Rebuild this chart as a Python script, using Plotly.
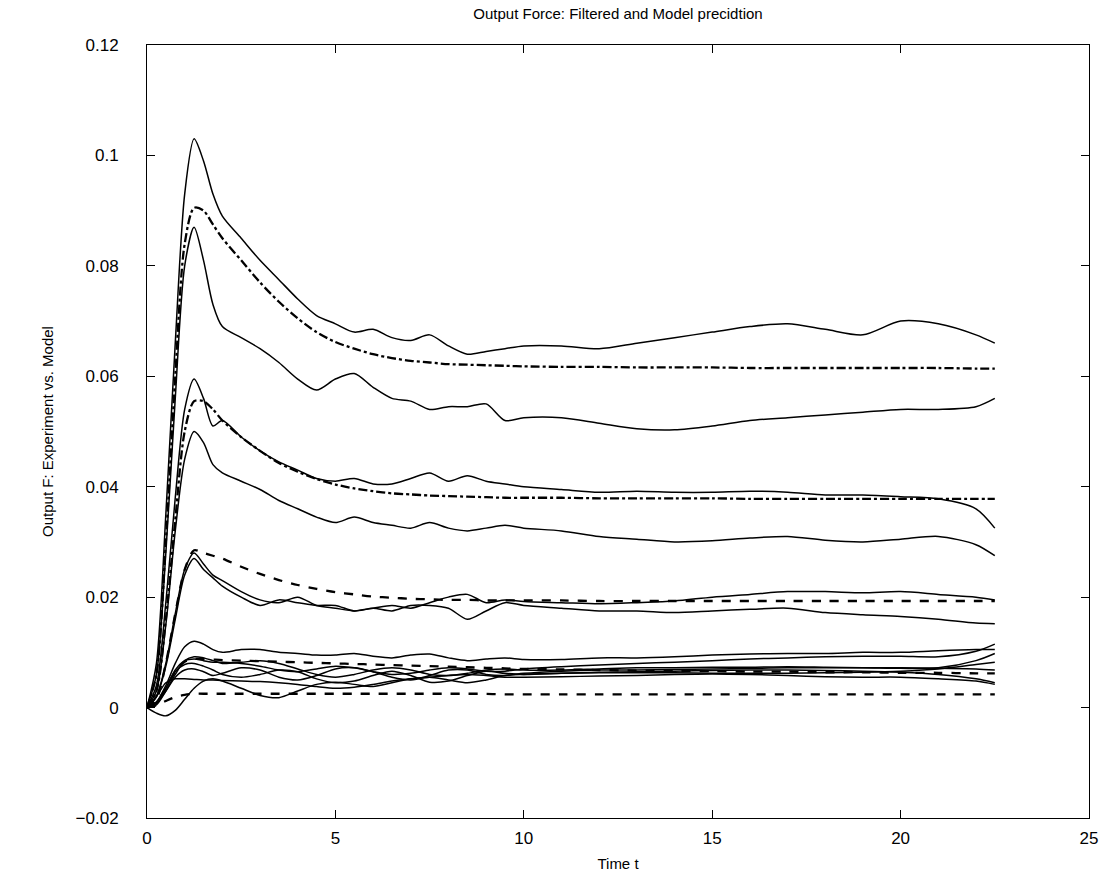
import plotly.graph_objects as go

t = [0, 0.25, 0.5, 0.75, 1.0, 1.25, 1.5, 1.75, 2, 2.5, 3, 3.5, 4, 4.5, 5, 5.5, 6, 6.5, 7, 7.5,
     8, 8.5, 9, 9.5, 10, 11, 12, 13, 14, 15, 16, 17, 18, 19, 20, 21, 22, 22.5]

# experiment (filtered) curves
exp_a = [0, 0.008, 0.035, 0.066, 0.093, 0.103, 0.099, 0.093, 0.089, 0.085, 0.081, 0.0775, 0.074, 0.071,
         0.0695, 0.068, 0.0685, 0.067, 0.0665, 0.0675, 0.0655, 0.064, 0.0645, 0.065, 0.0655, 0.0655, 0.065,
         0.066, 0.067, 0.068, 0.069, 0.0695, 0.0685, 0.0675, 0.070, 0.0695, 0.0675, 0.066]
exp_b = [0, 0.006, 0.028, 0.056, 0.080, 0.087, 0.081, 0.073, 0.069, 0.067, 0.065, 0.0625, 0.0595, 0.0575,
         0.0595, 0.0605, 0.058, 0.056, 0.0555, 0.054, 0.0545, 0.0545, 0.055, 0.052, 0.0525, 0.0525, 0.0515,
         0.0505, 0.0503, 0.051, 0.052, 0.0525, 0.053, 0.0535, 0.054, 0.054, 0.0545, 0.056]
exp_c = [0, 0.004, 0.019, 0.038, 0.054, 0.0595, 0.056, 0.051, 0.052, 0.049, 0.0465, 0.0445, 0.043, 0.0415,
         0.041, 0.0415, 0.0405, 0.0405, 0.0415, 0.0425, 0.041, 0.042, 0.041, 0.0405, 0.040, 0.0395, 0.039,
         0.0392, 0.039, 0.039, 0.0392, 0.039, 0.0385, 0.0385, 0.0382, 0.0378, 0.036, 0.0325]
exp_e = [0, 0.003, 0.015, 0.032, 0.045, 0.050, 0.048, 0.044, 0.0425, 0.041, 0.0395, 0.0375, 0.036, 0.0345,
         0.0335, 0.0345, 0.0335, 0.033, 0.0325, 0.0335, 0.0325, 0.032, 0.0325, 0.033, 0.0325, 0.032, 0.031,
         0.0305, 0.030, 0.0302, 0.0307, 0.031, 0.0303, 0.030, 0.0305, 0.031, 0.0295, 0.0275]
exp_g = [0, 0.002, 0.008, 0.017, 0.025, 0.028, 0.026, 0.024, 0.023, 0.021, 0.0195, 0.019, 0.020, 0.0185,
         0.018, 0.0175, 0.018, 0.0185, 0.018, 0.019, 0.020, 0.0205, 0.019, 0.0195, 0.0192, 0.019, 0.0188,
         0.019, 0.0193, 0.020, 0.0205, 0.021, 0.021, 0.0208, 0.021, 0.0205, 0.020, 0.0195]
exp_h = [0, 0.002, 0.0075, 0.016, 0.024, 0.027, 0.025, 0.0235, 0.022, 0.020, 0.0185, 0.0195, 0.019, 0.0185,
         0.0185, 0.0175, 0.018, 0.0175, 0.0185, 0.0185, 0.018, 0.016, 0.0175, 0.019, 0.0185, 0.018, 0.0175,
         0.0175, 0.0172, 0.0175, 0.0178, 0.018, 0.0172, 0.0168, 0.0165, 0.016, 0.0153, 0.0152]
exp_i = [0, 0.001, 0.004, 0.008, 0.011, 0.012, 0.0115, 0.0105, 0.010, 0.0105, 0.0105, 0.010, 0.0098, 0.0095,
         0.0095, 0.0098, 0.0093, 0.009, 0.0095, 0.0097, 0.009, 0.0085, 0.0088, 0.009, 0.0087, 0.0087, 0.009,
         0.009, 0.0092, 0.0095, 0.0097, 0.0098, 0.0098, 0.010, 0.010, 0.0103, 0.0105, 0.0105]
exp_l = [0, 0.0005, 0.003, 0.006, 0.0085, 0.0092, 0.009, 0.0085, 0.008, 0.0082, 0.0085, 0.008, 0.007, 0.006,
         0.0055, 0.006, 0.0068, 0.0072, 0.0068, 0.006, 0.0058, 0.0062, 0.0068, 0.007, 0.0068, 0.0068, 0.007,
         0.0072, 0.0072, 0.0073, 0.0073, 0.0074, 0.0073, 0.0072, 0.0072, 0.0071, 0.007, 0.0068]
exp_m = [0, 0.001, 0.0035, 0.0065, 0.0078, 0.008, 0.0075, 0.0068, 0.006, 0.0055, 0.006, 0.0068, 0.0065,
         0.0052, 0.0045, 0.0048, 0.0058, 0.0066, 0.0058, 0.0046, 0.0048, 0.0058, 0.0066, 0.0062, 0.006, 0.0062,
         0.0064, 0.0065, 0.0066, 0.0067, 0.0068, 0.0068, 0.0067, 0.0066, 0.0064, 0.006, 0.0052, 0.0045]
exp_n = [0, -0.001, -0.0015, -0.0005, 0.0015, 0.0035, 0.0048, 0.0052, 0.0048, 0.0035, 0.0022, 0.0018, 0.003,
         0.0042, 0.0046, 0.0042, 0.0038, 0.0045, 0.0052, 0.0055, 0.005, 0.0045, 0.005, 0.0058, 0.006, 0.0062,
         0.0063, 0.0063, 0.0063, 0.0062, 0.0062, 0.0062, 0.0063, 0.0064, 0.0066, 0.007, 0.0078, 0.0082]
exp_o = [0, 0.002, 0.0045, 0.0052, 0.0052, 0.0051, 0.005, 0.005, 0.0049, 0.0048, 0.0047, 0.0045, 0.0042,
         0.0038, 0.0035, 0.0037, 0.0042, 0.0048, 0.0052, 0.0055, 0.0058, 0.006, 0.0058, 0.0055, 0.0055, 0.0056,
         0.0057, 0.0058, 0.006, 0.0061, 0.006, 0.0058, 0.0056, 0.0055, 0.0055, 0.0052, 0.0048, 0.0042]
exp_p = [0, 0.0008, 0.003, 0.0055, 0.0068, 0.007, 0.0065, 0.0058, 0.0062, 0.0072, 0.0068, 0.0055, 0.005,
         0.0058, 0.007, 0.0072, 0.0065, 0.0055, 0.005, 0.0058, 0.0068, 0.0068, 0.006, 0.0058, 0.0062, 0.0066,
         0.0068, 0.0068, 0.0069, 0.007, 0.0071, 0.0072, 0.0072, 0.0072, 0.0071, 0.0072, 0.0085, 0.0098]
exp_q = [0, 0.0008, 0.0035, 0.0068, 0.0085, 0.0088, 0.0085, 0.0082, 0.0082, 0.008, 0.0075, 0.0068, 0.0065,
         0.007, 0.0075, 0.0072, 0.0065, 0.006, 0.0062, 0.0068, 0.0072, 0.007, 0.0066, 0.0066, 0.007, 0.0074,
         0.0077, 0.008, 0.0082, 0.0085, 0.0088, 0.009, 0.0092, 0.0093, 0.0093, 0.0092, 0.0102, 0.0115]

# model prediction curves
mod_1 = [0, 0.006, 0.030, 0.060, 0.084, 0.0905, 0.090, 0.0875, 0.085, 0.081, 0.077, 0.0735, 0.0705,
         0.068, 0.0662, 0.065, 0.064, 0.0633, 0.0628, 0.0625, 0.0622, 0.0621, 0.062, 0.0619, 0.0618, 0.0617,
         0.0617, 0.0616, 0.0616, 0.0616, 0.0615, 0.0615, 0.0615, 0.0615, 0.0615, 0.0615, 0.0614, 0.0614]
mod_2 = [0, 0.003, 0.016, 0.034, 0.050, 0.0555, 0.0555, 0.054, 0.052, 0.049, 0.0465, 0.0443, 0.0427, 0.0414,
         0.0404, 0.0397, 0.0392, 0.0388, 0.0386, 0.0384, 0.0383, 0.0382, 0.0381, 0.038, 0.038, 0.038, 0.0379,
         0.0379, 0.0379, 0.0379, 0.0378, 0.0378, 0.0378, 0.0378, 0.0378, 0.0378, 0.0378, 0.0378]
mod_3 = [0, 0.0015, 0.008, 0.017, 0.025, 0.0285, 0.028, 0.0275, 0.027, 0.0255, 0.0242, 0.0231, 0.0222,
         0.0215, 0.0209, 0.0205, 0.0201, 0.0199, 0.0197, 0.0196, 0.0195, 0.0195, 0.0194, 0.0194, 0.0194,
         0.0194, 0.0193, 0.0193, 0.0193, 0.0193, 0.0193, 0.0193, 0.0193, 0.0193, 0.0193, 0.0193, 0.0193, 0.0193]
mod_4 = [0, 0.001, 0.0035, 0.0065, 0.0083, 0.0088, 0.0088, 0.0087, 0.0086, 0.0085, 0.0084, 0.0083, 0.0082,
         0.0081, 0.0080, 0.0079, 0.0078, 0.0077, 0.0076, 0.0075, 0.0074, 0.0073, 0.0072, 0.0071, 0.0070, 0.0069,
         0.0068, 0.0067, 0.0066, 0.0066, 0.0065, 0.0065, 0.0064, 0.0064, 0.0063, 0.0063, 0.0062, 0.0062]
mod_5 = [0, 0.0004, 0.0012, 0.0019, 0.0023, 0.0025, 0.0025, 0.0025, 0.0025, 0.0025, 0.0025, 0.0025, 0.0025,
         0.0025, 0.0025, 0.0025, 0.0025, 0.0025, 0.0025, 0.0025, 0.0025, 0.0025, 0.0025, 0.0024, 0.0024, 0.0024,
         0.0024, 0.0024, 0.0024, 0.0024, 0.0024, 0.0024, 0.0024, 0.0024, 0.0024, 0.0024, 0.0024, 0.0024]

y_tick_vals = [-0.02, 0, 0.02, 0.04, 0.06, 0.08, 0.1, 0.12]
y_tick_text = ["\u22120.02", "0", "0.02", "0.04", "0.06", "0.08", "0.1", "0.12"]
x_tick_vals = [0, 5, 10, 15, 20, 25]

experiments = [exp_a, exp_b, exp_c, exp_e, exp_g, exp_h, exp_i, exp_l, exp_m, exp_n, exp_o, exp_p, exp_q]
models = [(mod_1, "dashdot"), (mod_2, "dashdot"), (mod_3, "dash"), (mod_4, "dash"), (mod_5, "dash")]

fig = go.Figure()
for ys in experiments:
    fig.add_trace(go.Scatter(x=t, y=ys, mode="lines",
                             line=dict(color="black", width=1.5, shape="spline", smoothing=0.8),
                             showlegend=False, hoverinfo="skip"))
for ys, dash in models:
    fig.add_trace(go.Scatter(x=t, y=ys, mode="lines",
                             line=dict(color="black", width=2.3, dash=dash, shape="spline", smoothing=0.8),
                             showlegend=False, hoverinfo="skip"))

font_family = "Liberation Sans, Arial, Helvetica, sans-serif"
fig.update_layout(
    width=1115, height=890,
    margin=dict(l=147, r=26, t=45, b=72),
    paper_bgcolor="white", plot_bgcolor="white",
    font=dict(family=font_family, color="black", size=17),
    title=dict(text="Output Force: Filtered and Model precidtion", x=0.5, xanchor="center",
               xref="paper", y=0.984, yanchor="middle", font=dict(size=15)),
    showlegend=False,
)
fig.update_xaxes(range=[0, 25], tickvals=x_tick_vals, ticks="inside", ticklen=8, tickcolor="black",
                 showline=True, linecolor="black", linewidth=1, mirror="ticks", showgrid=False,
                 zeroline=False, ticklabelstandoff=5,
                 title=dict(text="Time t", font=dict(size=15), standoff=11))
fig.update_yaxes(range=[-0.02, 0.12], tickvals=y_tick_vals, ticktext=y_tick_text, ticks="inside",
                 ticklen=8, tickcolor="black", showline=True, linecolor="black", linewidth=1,
                 mirror="ticks", showgrid=False, zeroline=False, ticklabelstandoff=24,
                 title=dict(text="Output F: Experiment vs. Model", font=dict(size=15), standoff=18))

fig.write_html("out.html")
